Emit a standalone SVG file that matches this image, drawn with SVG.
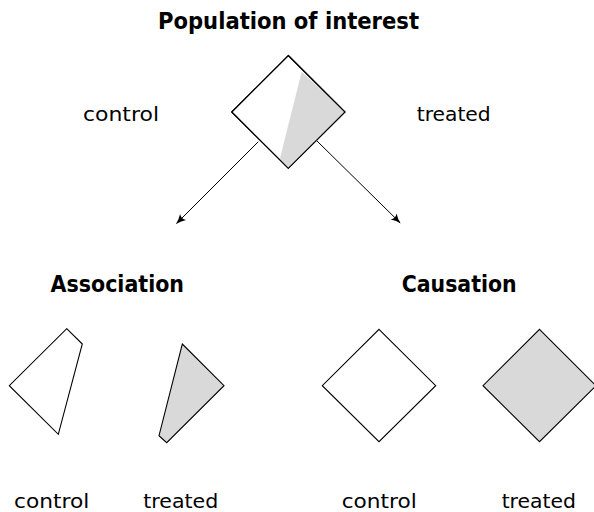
<svg xmlns="http://www.w3.org/2000/svg" width="594" height="512" viewBox="0 0 594 512">
<style>
.shape{stroke:#000;stroke-width:1.1;stroke-linejoin:miter;fill:#fff}
.gray{fill:#d9d9d9;stroke:none}
.out{fill:none;stroke:#000;stroke-width:1.1}
.lbl{font-family:"DejaVu Sans",sans-serif;font-size:20px;fill:#000;text-anchor:middle}
.ttl{font-family:"DejaVu Sans",sans-serif;font-size:22.5px;font-weight:bold;fill:#000;text-anchor:middle}
.conn{stroke:#000;stroke-width:1;fill:none;marker-end:url(#arr)}
</style>
<defs>
<marker id="arr" viewBox="0 0 10 10" refX="9" refY="5" markerWidth="10" markerHeight="10" markerUnits="userSpaceOnUse" orient="auto">
<path d="M0,0.8 Q5,4 10,5 Q5,6 0,9.2 Q3,5 0,0.8 Z" fill="#000"/>
</marker>
</defs>
<rect width="594" height="512" fill="#fff"/>
<g id="title"><text class="ttl" x="288.5" y="28.5" textLength="261" lengthAdjust="spacingAndGlyphs">Population of interest</text></g>
<g id="population">
<polygon class="shape" points="288.3,55.5 345,112 288.3,168.3 231.7,112"/>
<polygon class="gray" points="301.7,71.7 345,112 288.3,168.3 280,158.3"/>
<polygon class="out" points="288.3,55.5 345,112 288.3,168.3 231.7,112"/>
</g>
<g id="label-control-top"><text class="lbl" x="121" y="121" textLength="76" lengthAdjust="spacingAndGlyphs">control</text></g>
<g id="label-treated-top"><text class="lbl" x="453.7" y="121" textLength="74" lengthAdjust="spacingAndGlyphs">treated</text></g>
<g id="connectors">
<line class="conn" x1="258.3" y1="141.7" x2="176.7" y2="223.3"/>
<line class="conn" x1="316.7" y1="140.7" x2="400" y2="222.7"/>
</g>
<g id="association">
<text class="ttl" x="117.3" y="291.5" textLength="133.5" lengthAdjust="spacingAndGlyphs">Association</text>
</g>
<g id="causation">
<text class="ttl" x="459.2" y="291.5" textLength="115" lengthAdjust="spacingAndGlyphs">Causation</text>
</g>
<g id="assoc-control">
<polygon class="shape" points="66.7,328.7 82.3,344 58.3,434.3 9.3,385.7"/>
<text class="lbl" x="51.7" y="508.3" textLength="75.3" lengthAdjust="spacingAndGlyphs">control</text>
</g>
<g id="assoc-treated">
<polygon class="shape" style="fill:#d9d9d9" points="182.3,344 224,385.7 166.7,442.7 159,435.7"/>
<text class="lbl" x="180.8" y="508.3" textLength="75" lengthAdjust="spacingAndGlyphs">treated</text>
</g>
<g id="cause-control">
<polygon class="shape" points="379,329.3 435.7,385.7 379,441.7 322.3,385.7"/>
<text class="lbl" x="379.2" y="508.3" textLength="75" lengthAdjust="spacingAndGlyphs">control</text>
</g>
<g id="cause-treated">
<polygon class="shape" style="fill:#d9d9d9" points="539.5,329.3 596,385.7 539.5,441.7 483,385.7"/>
<text class="lbl" x="538.8" y="508.3" textLength="74.3" lengthAdjust="spacingAndGlyphs">treated</text>
</g>
</svg>
